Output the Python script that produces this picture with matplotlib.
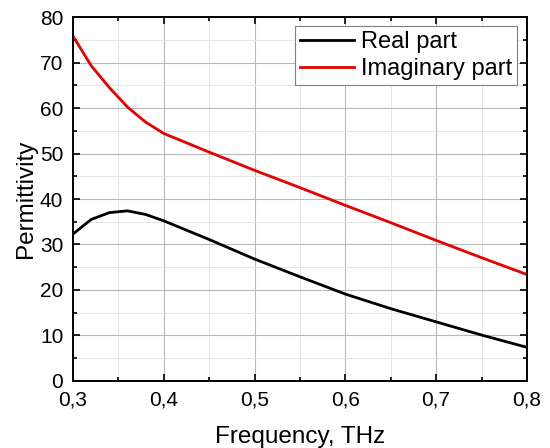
import matplotlib
matplotlib.use("Agg")
import matplotlib.pyplot as plt
from matplotlib.ticker import MultipleLocator, FuncFormatter

plt.rcParams['font.family'] = ['Liberation Sans', 'DejaVu Sans']

# values
freq = [0.30, 0.32, 0.34, 0.36, 0.38, 0.40, 0.45, 0.50, 0.55, 0.60, 0.65, 0.70, 0.75, 0.80]
real_part = [32.3, 35.5, 37.0, 37.4, 36.6, 35.2, 31.1, 26.8, 22.9, 19.1, 15.9, 13.0, 10.1, 7.4]
imag_part = [75.8, 69.3, 64.5, 60.2, 56.9, 54.4, 50.3, 46.3, 42.5, 38.6, 34.8, 30.9, 27.1, 23.4]

fig = plt.figure(figsize=(5.5, 4.48), dpi=100)
ax = fig.add_axes([0.1327, 0.1496, 0.8253, 0.8124])

ax.plot(freq, real_part, color="black", lw=2.0, label="Real part")
ax.plot(freq, imag_part, color="#e60000", lw=2.0, label="Imaginary part")

ax.set_xlim(0.3, 0.8)
ax.set_ylim(0, 80)
ax.xaxis.set_major_locator(MultipleLocator(0.1))
ax.xaxis.set_minor_locator(MultipleLocator(0.05))
ax.yaxis.set_major_locator(MultipleLocator(10))
ax.yaxis.set_minor_locator(MultipleLocator(5))
ax.xaxis.set_major_formatter(FuncFormatter(lambda v, p: f"{v:.1f}".replace(".", ",")))

ax.grid(which="major", color="#b8b8b8", lw=0.8)
ax.grid(which="minor", color="#e6e6e6", lw=0.7)
ax.set_axisbelow(True)

ax.tick_params(which="both", direction="in", top=True, right=True, labelsize=15, width=1.2)
ax.tick_params(which="major", length=5)
ax.tick_params(which="minor", length=3)
ax.tick_params(axis="y", which="major", pad=7)
ax.tick_params(axis="x", which="major", pad=7)
for s in ax.spines.values():
    s.set_linewidth(1.4)

ax.set_xlabel("Frequency, THz", fontsize=17.5, labelpad=12)
ax.set_ylabel("Permittivity", fontsize=17.5, labelpad=2)

leg = ax.legend(loc="upper right", fontsize=17, frameon=True, fancybox=False,
                edgecolor="#808080", framealpha=1, handlelength=2.3,
                handletextpad=0.3, borderpad=0.2, labelspacing=0.2,
                borderaxespad=0.4)
leg.get_frame().set_linewidth(0.8)

fig.savefig("out.png", dpi=100)
